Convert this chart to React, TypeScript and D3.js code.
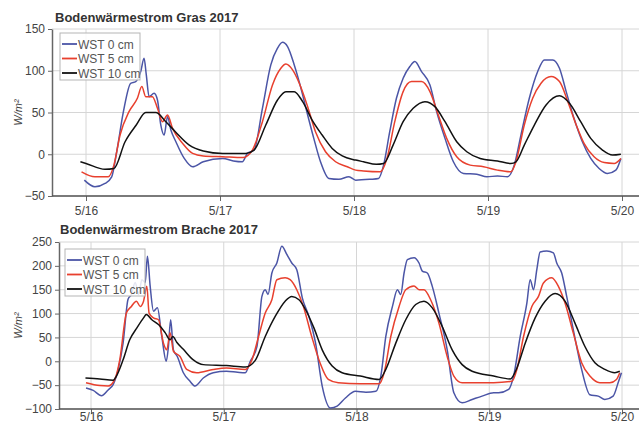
import React, { useEffect, useRef } from "react";
import * as d3 from "d3";

// hours since 5/16 00:00, value in W/m²
const dayLabels = ["5/16", "5/17", "5/18", "5/19", "5/20"];
const dayHours = [0, 24, 48, 72, 96];
const seriesNames = ["WST 0 cm", "WST 5 cm", "WST 10 cm"];
const seriesColors = ["#4b55a6", "#e8402e", "#111111"];

const grasWst0: [number, number][] = [
  [-0.3, -31], [1.6, -39], [3.4, -35], [4.6, -27], [5.5, 3], [6.7, 51], [8, 85], [8.9, 87], [9.8, 99], [10.4, 115],
  [10.8, 95], [11.3, 69], [12.2, 73], [12.8, 65], [13.4, 35], [14, 23], [14.6, 45], [15.2, 29], [16.1, 15], [17.6, -5],
  [19.1, -15], [21, -9], [24.5, -5], [26.4, -8], [28, -9], [28.9, 1], [30.1, 5], [31.6, 55], [33.1, 107], [34.3, 127],
  [35.2, 134], [36.1, 129], [37.3, 107], [38.5, 79], [39.7, 47], [40.8, 19], [42, -9], [43.5, -29], [45.3, -30], [47.1, -27],
  [48.3, -31], [50.9, -30], [52.4, -29], [53.3, -13], [54.4, 27], [55.6, 67], [56.8, 91], [58, 105], [58.9, 111], [60.1, 99],
  [61.6, 83], [62.8, 51], [64.3, 19], [65.8, -9], [67.6, -23], [70, -24], [71.8, -27], [73.7, -26], [75.5, -27], [76.7, -13],
  [77.9, 23], [79.4, 67], [80.9, 99], [82.1, 113], [83.6, 113], [84.8, 103], [86, 75], [87.4, 43], [88.9, 15], [90.4, -5],
  [91.9, -17], [93.4, -23], [94.9, -19], [95.8, -5],
];
const grasWst5: [number, number][] = [
  [-0.8, -21], [1.6, -27], [4, -27], [5, -13], [6.1, 23], [7.7, 51], [9.2, 67], [10, 81], [10.7, 69], [11.9, 69],
  [12.8, 55], [13.7, 39], [14.6, 47], [15.5, 31], [17.3, 13], [19.1, 1], [21, -2], [24.5, -3], [28.1, -4], [29.8, 5],
  [31.6, 39], [33.4, 83], [34.9, 103], [35.8, 108], [37, 101], [38.2, 85], [39.7, 57], [41.1, 27], [42.9, 3], [44.7, -9],
  [46.8, -15], [48.3, -19], [49.7, -20], [52.7, -21], [53.9, -5], [55.3, 39], [56.8, 75], [58.3, 87], [60.1, 87], [61.6, 75],
  [63.1, 47], [64.6, 19], [66.4, -3], [68.8, -13], [71.2, -15], [73.7, -19], [76.1, -21], [77, -9], [78.5, 35], [80, 67],
  [81.5, 85], [83.3, 93], [84.8, 87], [86.3, 63], [87.8, 35], [89.2, 13], [91, -3], [92.8, -10], [94.6, -11], [95.8, -5],
];
const grasWst10: [number, number][] = [
  [-1, -9], [0, -11], [3.4, -18], [5, -17], [7, 15], [9, 35], [10.7, 50], [12.5, 50], [14.3, 39], [16, 27],
  [18.5, 11], [21, 4], [24.5, 1], [26.3, 1], [28.6, 1], [30.1, 5], [32.2, 35], [34.3, 65], [35.8, 75], [37.3, 75],
  [38.8, 63], [40.5, 41], [42.3, 23], [44.1, 7], [45.9, -2], [48.3, -7], [49.7, -9], [52, -12], [53.3, -11], [55, 11],
  [56.8, 39], [58.6, 55], [60.7, 63], [62.5, 57], [64.3, 39], [66.4, 15], [68.2, 3], [70.6, -5], [73.7, -8], [76.1, -11],
  [77, -9], [78.5, 11], [80.3, 35], [82.4, 59], [84.8, 70], [86.6, 61], [88.6, 39], [90.4, 19], [92.5, 5], [94.3, -1],
  [95.8, 0],
];

const bracheWst0: [number, number][] = [
  [-0.9, -56], [0.4, -61], [1.9, -72], [3.1, -60], [4, -49], [4.9, -18], [5.8, 38], [6.7, 130], [7.3, 140], [8, 165],
  [8.6, 140], [9.2, 171], [9.8, 165], [10.2, 220], [10.7, 157], [11.3, 105], [12, 112], [12.8, 52], [13.6, 0], [14, 31],
  [14.4, 87], [14.9, 24], [15.6, 10], [16.7, -24], [17.9, -42], [18.8, -52], [20.3, -35], [22.1, -24], [24.5, -21], [26.5, -23],
  [27.9, -24], [28.8, 0], [30, 31], [30.9, 136], [31.5, 150], [32, 140], [32.7, 185], [33.6, 206], [34.5, 241], [35.4, 224],
  [36.3, 206], [37.2, 192], [38.2, 133], [39.4, 94], [40.6, 38], [41.8, -52], [43.3, -98], [44.5, -94], [46, -77], [47.8, -63],
  [49.7, -65], [51.5, -63], [52.4, -31], [53.3, 52], [54.5, 115], [55.4, 150], [56, 140], [56.6, 185], [57.2, 213], [58.4, 217],
  [59.3, 206], [59.9, 189], [60.8, 185], [61.7, 157], [62.9, 101], [64.4, 24], [65.6, -66], [67.1, -87], [68.9, -80], [70.7, -73],
  [72.8, -66], [73.7, -66], [75.5, -59], [76.4, -31], [77.6, 52], [78.8, 122], [79.4, 171], [80, 150], [80.6, 192], [81.2, 229],
  [82.4, 231], [83.6, 227], [84.2, 206], [85.1, 185], [86, 136], [87.2, 66], [88.7, -17], [90.2, -70], [91.7, -73], [92.9, -80],
  [94.4, -73], [95.3, -45], [95.9, -24],
];
const bracheWst5: [number, number][] = [
  [-0.9, -45], [1.6, -51], [3.1, -52], [4.3, -38], [5.2, 3], [6.4, 101], [7.3, 115], [8.2, 126], [8.9, 115], [9.5, 126],
  [10.1, 157], [10.5, 101], [11.3, 91], [12.2, 87], [13.1, 38], [13.7, 24], [14.3, 60], [14.9, 21], [16.1, 10], [17.3, -17],
  [19.1, -24], [22.1, -17], [24.5, -14], [27.9, -17], [29.1, 3], [30.3, 52], [31.5, 101], [32.7, 129], [33.6, 171], [35.1, 175],
  [36, 171], [37.2, 150], [38.4, 115], [39.9, 52], [41.4, -3], [42.9, -38], [44.7, -45], [48.7, -47], [52.1, -47], [53, -24],
  [54.2, 52], [55.7, 115], [56.9, 150], [58.4, 158], [59.3, 150], [60.2, 150], [61.4, 129], [62.9, 80], [64.4, 10], [65.6, -31],
  [67.1, -45], [72.8, -45], [76.1, -42], [77, -17], [78.2, 52], [79.7, 115], [80.9, 136], [81.8, 164], [83.3, 175], [84.5, 157],
  [85.7, 122], [87.2, 59], [88.7, -3], [90.2, -31], [92, -45], [93.8, -45], [95, -38], [95.6, -24],
];
const bracheWst10: [number, number][] = [
  [-1, -35], [1.6, -37], [4, -40], [4.6, -31], [5.8, 3], [7, 45], [8.3, 70], [9.5, 91], [10, 98], [11, 87],
  [12.2, 77], [13.4, 60], [14.3, 45], [14.8, 52], [15.5, 40], [16.7, 25], [18.5, 3], [20.3, -7], [24.5, -9], [27.9, -12],
  [29.7, 2], [31.5, 52], [33.3, 94], [35.1, 126], [36.3, 136], [37.6, 129], [38.8, 108], [40.3, 70], [41.8, 24], [43.6, -10],
  [45.4, -24], [48.7, -31], [52.1, -38], [53.3, -17], [55.1, 38], [56.9, 87], [58.7, 119], [60.2, 126], [61.7, 112], [63.5, 73],
  [65.3, 24], [67.1, -7], [68.9, -21], [72.8, -31], [75.8, -37], [77, -14], [78.5, 38], [80.3, 91], [82.1, 126], [83.9, 142],
  [85.7, 126], [87.5, 80], [89.3, 31], [91.1, -3], [92.9, -17], [94.7, -24], [95.6, -21],
];

const grasTicks = [-50, 0, 50, 100, 150];
const bracheTicks = [-100, -50, 0, 50, 100, 150, 200, 250];

const FONT = "'Liberation Sans', Arial, sans-serif";

const Panel = props => {
  const ref = useRef(null);

  useEffect(() => {
    const g = d3.select(ref.current);
    g.selectAll("*").remove();

    const x = d3.scaleLinear().domain([0, 96]).range([props.x16, props.x20]);
    const y = d3.scaleLinear().domain(props.yDomain).range([props.bottom, props.top]);

    // grid
    g.append("g")
      .selectAll("line.h")
      .data(props.yTicks)
      .join("line")
      .attr("x1", props.left)
      .attr("x2", props.right)
      .attr("y1", d => y(d))
      .attr("y2", d => y(d))
      .attr("stroke", "#d6d6d6");
    g.append("g")
      .selectAll("line.v")
      .data(dayHours)
      .join("line")
      .attr("x1", d => x(d))
      .attr("x2", d => x(d))
      .attr("y1", props.top)
      .attr("y2", props.bottom)
      .attr("stroke", "#d6d6d6");

    // axes
    const yAxis = g.append("g")
      .attr("transform", `translate(${props.left},0)`)
      .call(d3.axisLeft(y).tickValues(props.yTicks).tickSize(4).tickSizeOuter(0));
    yAxis.select(".domain").attr("stroke", "#666").attr("stroke-width", 1.5);
    yAxis.selectAll(".tick line").attr("stroke", "#666");
    yAxis.selectAll("text").attr("fill", "#444").style("font-size", "12px").style("font-family", FONT);

    const xAxis = g.append("g")
      .attr("transform", `translate(0,${props.bottom})`)
      .call(d3.axisBottom(x).tickValues(dayHours).tickFormat((d, i) => dayLabels[i]).tickSize(5).tickSizeOuter(0));
    xAxis.select(".domain").remove();
    xAxis.append("line")
      .attr("x1", props.left)
      .attr("x2", props.right)
      .attr("stroke", "#555")
      .attr("stroke-width", 1.5);
    xAxis.selectAll(".tick line").attr("stroke", "#666");
    xAxis.selectAll("text").attr("fill", "#444").attr("dy", props.tickDy).style("font-size", "12px").style("font-family", FONT);

    // lines
    const line = d3.line().x(d => x(d[0])).y(d => y(d[1])).curve(d3.curveMonotoneX);
    props.series.forEach((s, i) => {
      g.append("path")
        .attr("d", line(s))
        .attr("fill", "none")
        .attr("stroke", seriesColors[i])
        .attr("stroke-width", 1.5)
        .attr("stroke-linejoin", "round");
    });

    // legend
    const lg = g.append("g").attr("transform", `translate(${props.legendX},${props.legendY})`);
    lg.append("rect")
      .attr("width", 80)
      .attr("height", 47)
      .attr("fill", "rgba(255,255,255,0.85)")
      .attr("stroke", "#b5b5b5");
    seriesNames.forEach((n, i) => {
      const cy = 11 + i * 14.5;
      lg.append("line")
        .attr("x1", 2).attr("x2", 17).attr("y1", cy).attr("y2", cy)
        .attr("stroke", seriesColors[i]).attr("stroke-width", 1.8);
      lg.append("text")
        .attr("x", 18).attr("y", cy + 4.5)
        .attr("fill", "#555")
        .style("font-size", "12px").style("font-family", FONT)
        .text(n);
    });

    // title and y label
    g.append("text")
      .attr("x", props.titleX).attr("y", props.titleY)
      .attr("fill", "#333")
      .style("font-size", "13px").style("font-weight", "bold").style("font-family", FONT)
      .text(props.title);
    g.append("text")
      .attr("transform", `translate(22,${(props.top + props.bottom) / 2}) rotate(-90)`)
      .attr("text-anchor", "middle")
      .attr("fill", "#444")
      .style("font-size", "11px").style("font-style", "italic").style("font-family", FONT)
      .text("W/m²");
  }, [props]);

  return <g ref={ref} />;
};

export default function App() {
  return (
    <svg width={639} height={425} style={{ position: "absolute", left: 0, top: 0, background: "#fff" }}>
      <Panel
        title="Bodenwärmestrom Gras 2017"
        titleX={55}
        titleY={22}
        left={52}
        right={639}
        top={29}
        bottom={196}
        x16={86}
        x20={622}
        yDomain={[-50, 150]}
        yTicks={grasTicks}
        series={[grasWst0, grasWst5, grasWst10]}
        legendX={60}
        legendY={33}
        tickDy="0.9em"
      />
      <Panel
        title="Bodenwärmestrom Brache 2017"
        titleX={60}
        titleY={234}
        left={59}
        right={639}
        top={242}
        bottom={409}
        x16={91}
        x20={622}
        yDomain={[-100, 250]}
        yTicks={bracheTicks}
        series={[bracheWst0, bracheWst5, bracheWst10]}
        legendX={65}
        legendY={249}
        tickDy="0.3em"
      />
    </svg>
  );
}
